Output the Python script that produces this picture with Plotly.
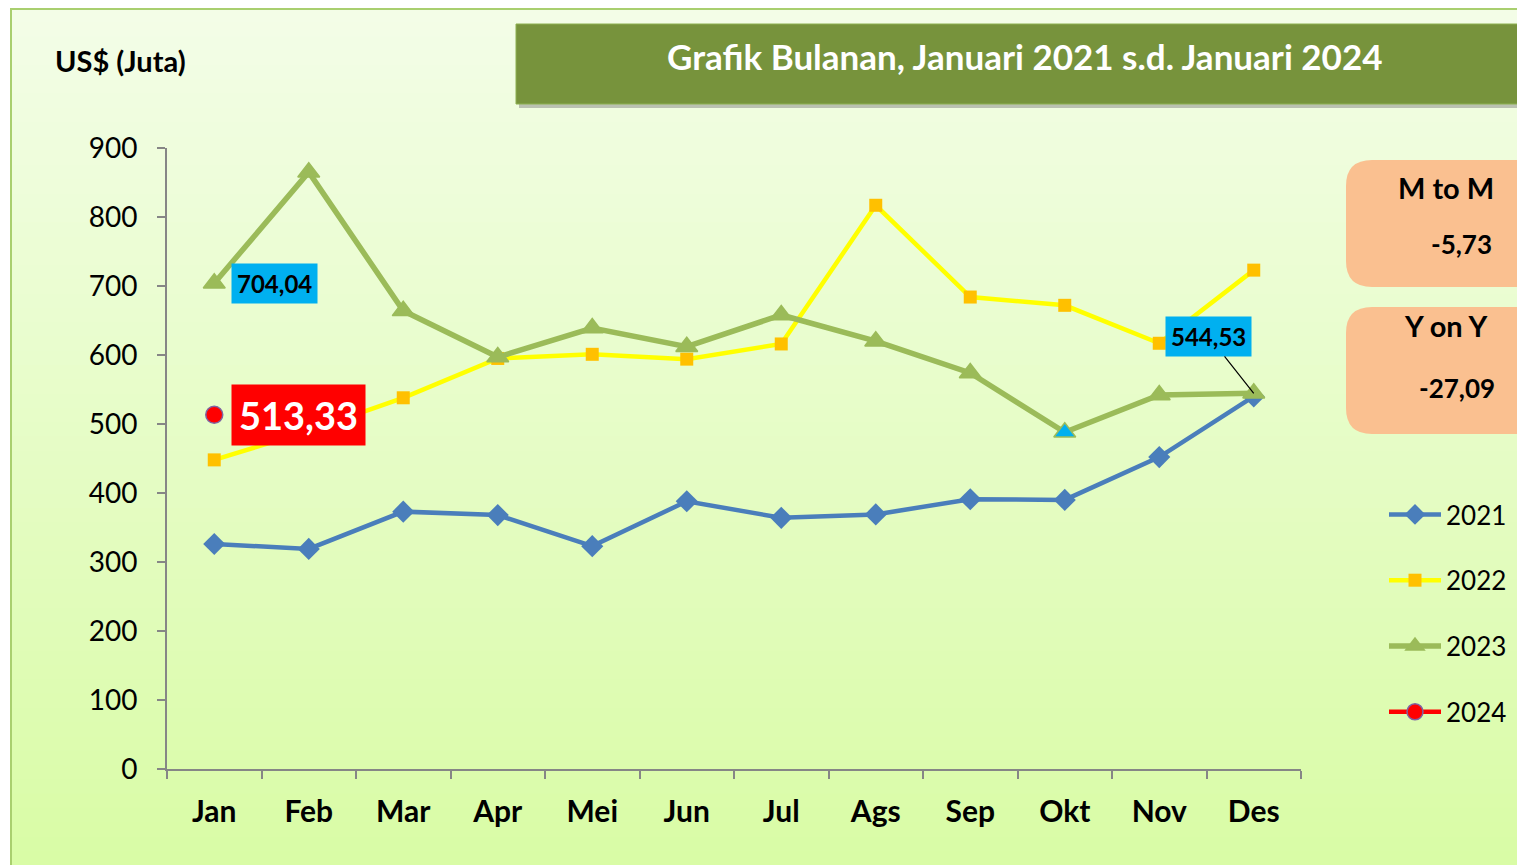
import plotly.graph_objects as go

# page offset from browser body margin
OX, OY = 8, 8
W, H = 1517, 857

months = ["Jan", "Feb", "Mar", "Apr", "Mei", "Jun", "Jul", "Ags", "Sep", "Okt", "Nov", "Des"]
v2021 = [326, 319, 373, 368, 323, 388, 364, 369, 391, 390, 452, 540]
v2022 = [448, 490, 538, 595, 601, 594, 616, 817, 684, 672, 617, 723]
v2023 = [704.04, 865, 664, 597, 639, 612, 658, 620, 574, 488, 542, 544.53]
v2024 = [513.33, None, None, None, None, None, None, None, None, None, None, None]
y_ticks = [0, 100, 200, 300, 400, 500, 600, 700, 800, 900]
title_text = "Grafik Bulanan, Januari 2021 s.d. Januari 2024"
mtm_value = "-5,73"
yoy_value = "-27,09"

FONT = "Lato"


def px(x):
    return (x - OX) / W


def py(y):
    return 1 - (y - OY) / H


def fmt(v):
    return f"{v:.2f}".replace(".", ",")


fig = go.Figure()

okt_colors = ["#9bbb59"] * 12
okt_colors[9] = "#00b0f0"

fig.add_trace(go.Scatter(x=months, y=v2021, name="2021", mode="lines+markers",
                         line=dict(color="#4a7ebb", width=4.5),
                         marker=dict(symbol="diamond", size=17, color="#4a7ebb"),
                         legendgroup="a"))
fig.add_trace(go.Scatter(x=months, y=v2022, name="2022", mode="lines+markers",
                         line=dict(color="#ffff00", width=4.5),
                         marker=dict(symbol="square", size=13, color="#ffc000"),
                         legendgroup="b"))
fig.add_trace(go.Scatter(x=months, y=v2023, name="2023", mode="lines+markers",
                         line=dict(color="#9bbb59", width=5.5),
                         marker=dict(symbol="triangle-up", size=19, color=okt_colors,
                                     line=dict(color="#9bbb59", width=1.5)),
                         legendgroup="c"))
fig.add_trace(go.Scatter(x=months, y=v2024, name="2024", mode="lines+markers",
                         line=dict(color="#ff0000", width=4.5),
                         marker=dict(symbol="circle", size=17, color="#ff0000",
                                     line=dict(color="#7f64a2", width=1.5)),
                         legendgroup="d"))

shapes = []
# gradient frame
top_c = (0xf3, 0xfd, 0xe7)
bot_c = (0xd9, 0xfc, 0xa6)
n = 60
y0p, y1p = 8, 865
for i in range(n):
    t = i / (n - 1)
    c = tuple(int(round(top_c[k] + (bot_c[k] - top_c[k]) * t)) for k in range(3))
    ya = y0p + (y1p - y0p) * i / n
    yb = min(y0p + (y1p - y0p) * (i + 1) / n + 1, 865)
    shapes.append(dict(type="rect", xref="paper", yref="paper", layer="below",
                       x0=px(10), x1=1, y0=py(yb), y1=py(ya),
                       fillcolor="rgb(%d,%d,%d)" % c, line=dict(width=0)))
shapes.append(dict(type="line", xref="paper", yref="paper", layer="below",
                   x0=px(11), x1=px(11), y0=py(866), y1=py(9), line=dict(color="#a9cf6f", width=2)))
shapes.append(dict(type="line", xref="paper", yref="paper", layer="below",
                   x0=px(10), x1=1, y0=py(9), y1=py(9), line=dict(color="#a9cf6f", width=2)))

# title box with shadow
shapes.append(dict(type="rect", xref="paper", yref="paper", layer="below",
                   x0=px(519), x1=1, y0=py(108), y1=py(27),
                   fillcolor="rgba(120,120,120,0.45)", line=dict(width=0)))
shapes.append(dict(type="rect", xref="paper", yref="paper", layer="below",
                   x0=px(516), x1=1, y0=py(104), y1=py(24),
                   fillcolor="#77933c", line=dict(color="#8db050", width=1)))


def rounded(x0, y0, x1, y1, r):
    return (f"M {px(x0 + r)},{py(y0)} L {px(x1)},{py(y0)} L {px(x1)},{py(y1)} "
            f"L {px(x0 + r)},{py(y1)} Q {px(x0)},{py(y1)} {px(x0)},{py(y1 - r)} "
            f"L {px(x0)},{py(y0 + r)} Q {px(x0)},{py(y0)} {px(x0 + r)},{py(y0)} Z")


for (a, b) in [(160, 287), (307, 434)]:
    shapes.append(dict(type="path", xref="paper", yref="paper", layer="below",
                       path=rounded(1346, a, 1530, b, 26),
                       fillcolor="#fac090", line=dict(width=0)))


def pann(text, x, y, size, color="black", xanchor="center"):
    return dict(text=text, xref="paper", yref="paper", x=px(x), y=py(y),
                xanchor=xanchor, yanchor="middle", showarrow=False,
                font=dict(family=FONT, size=size, color=color))


annotations = [
    pann("<b>" + title_text + "</b>", 1025, 56, 35, "white"),
    pann("<b>US$ (Juta)</b>", 53, 60, 29, xanchor="left"),
    pann("<b>M to M</b>", 1446, 188, 29),
    pann("<b>" + mtm_value + "</b>", 1494, 244, 26, xanchor="right"),
    pann("<b>Y on Y</b>", 1446, 325, 29),
    pann("<b>" + yoy_value + "</b>", 1497, 388, 26, xanchor="right"),
    # data labels
    dict(text="<b>" + fmt(v2023[0]) + "</b>", x=months[0], y=v2023[0],
         xanchor="left", yanchor="middle", xshift=17, showarrow=False,
         bgcolor="#00b0f0", borderpad=5,
         font=dict(family=FONT, size=24, color="black")),
    dict(text="<b>" + fmt(v2024[0]) + "</b>", x=months[0], y=v2024[0],
         xanchor="left", yanchor="middle", xshift=17, showarrow=False,
         bgcolor="#ff0000", borderpad=7,
         font=dict(family=FONT, size=38, color="white")),
    dict(text="<b>" + fmt(v2023[11]) + "</b>", x=months[11], y=v2023[11],
         showarrow=True, arrowhead=0, arrowwidth=1.2, arrowcolor="black",
         ax=-45, ay=-57, bgcolor="#00b0f0", borderpad=5,
         font=dict(family=FONT, size=24, color="black")),
]

fig.update_layout(
    width=W, height=H,
    margin=dict(l=0, r=0, t=0, b=0, autoexpand=False),
    paper_bgcolor="white",
    plot_bgcolor="rgba(0,0,0,0)",
    shapes=shapes,
    annotations=annotations,
    font=dict(family=FONT, color="black"),
    showlegend=True,
    legend=dict(x=px(1384), y=py(491), xanchor="left", yanchor="top",
                bgcolor="rgba(0,0,0,0)", font=dict(family=FONT, size=26),
                itemwidth=52, tracegroupgap=29, traceorder="grouped"),
    xaxis=dict(domain=[px(167), px(1301)], type="category", range=[-0.5, 11.5],
               tickson="boundaries", ticks="outside", ticklen=8, tickwidth=2,
               tickcolor="#868686", showline=True, linecolor="#868686", linewidth=2,
               showgrid=False, zeroline=False, automargin=False,
               tickfont=dict(family=FONT, size=30, color="black", weight="bold"),
               ticklabelstandoff=15, fixedrange=True),
    yaxis=dict(domain=[py(769), py(148)], range=[0, 900], tickvals=y_ticks,
               ticks="outside", ticklen=8, tickwidth=2, tickcolor="#868686",
               showline=True, linecolor="#868686", linewidth=2,
               showgrid=False, zeroline=False, automargin=False,
               tickfont=dict(family=FONT, size=28, color="black"),
               ticklabelstandoff=14, fixedrange=True),
)

fig.write_html("out.html")
